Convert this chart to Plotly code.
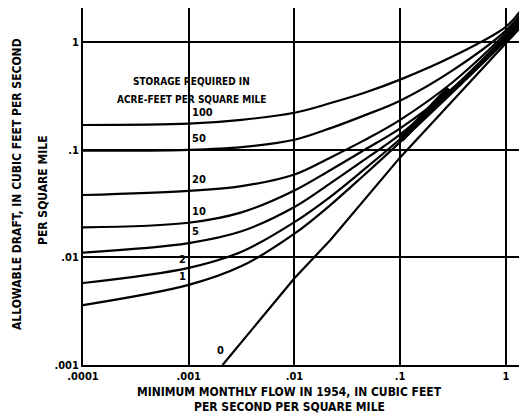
import math
import plotly.graph_objects as go

# ---- data ----
storage_labels = ["100", "50", "20", "10", "5", "2", "1"]
x_flow = [1e-4, 1e-3, 3.16e-3, 1e-2, 2.2e-2, 4.6e-2, 0.1, 0.316, 1.0, 1.38]
y_100 = [0.170, 0.175, 0.190, 0.221, 0.272, 0.339, 0.449, 0.74, 1.39, 1.97]
y_50 = [0.098, 0.100, 0.106, 0.124, 0.159, 0.209, 0.286, 0.55, 1.28, 1.82]
y_20 = [0.038, 0.0416, 0.046, 0.059, 0.085, 0.123, 0.190, 0.427, 1.21, 1.70]
y_10 = [0.019, 0.021, 0.0262, 0.0419, 0.065, 0.0998, 0.158, 0.376, 1.15, 1.60]
y_5 = [0.0111, 0.0136, 0.0175, 0.0294, 0.049, 0.0809, 0.139, 0.371, 1.11, 1.55]
y_2 = [0.00578, 0.0080, 0.0113, 0.0213, 0.0368, 0.0662, 0.126, 0.362, 1.07, 1.48]
y_1 = [0.0036, 0.00555, 0.0083, 0.0166, 0.0308, 0.0587, 0.118, 0.344, 1.03, 1.42]
x_zero = [0.00209, 0.01, 0.022, 0.1, 1.0, 1.38]
y_zero = [0.001, 0.0064, 0.0146, 0.085, 0.98, 1.37]
# heavy overprinted stretch where the low-storage curves merge
x_band = [0.102, 0.29]
y_band = [0.125, 0.37]

x_ticks = [1e-4, 1e-3, 1e-2, 1e-1, 1]
x_ticktext = [".0001", ".001", ".01", ".1", "1"]
y_ticks = [1e-3, 1e-2, 1e-1, 1]
y_ticktext = [".001", ".01", ".1", "1"]

FONT = "DejaVu Sans Condensed, Liberation Sans Narrow, Liberation Sans, sans-serif"

# plot area in page pixels (page has an 8px body margin)
PX0, PX1, PY0, PY1 = 83, 527, 8, 365


def px(xp):
    return (xp - PX0) / (PX1 - PX0)


def py(yp):
    return (PY1 - yp) / (PY1 - PY0)


series = [y_100, y_50, y_20, y_10, y_5, y_2, y_1]

fig = go.Figure()
for ys in series:
    fig.add_trace(go.Scatter(x=x_flow, y=ys, mode="lines",
                             line=dict(color="black", width=2.2, shape="spline", smoothing=1.0),
                             showlegend=False, hoverinfo="skip"))
fig.add_trace(go.Scatter(x=x_zero, y=y_zero, mode="lines",
                         line=dict(color="black", width=2.2),
                         showlegend=False, hoverinfo="skip"))
fig.add_trace(go.Scatter(x=x_band, y=y_band, mode="lines",
                         line=dict(color="black", width=6),
                         showlegend=False, hoverinfo="skip"))

lab_font = dict(family=FONT, size=11, color="black", weight="bold")
leg_font = dict(family=FONT, size=10, color="black", weight="bold")
title_font = dict(family=FONT, size=12, color="black", weight="bold")

# curve labels anchored to each curve at x = .001
for lab, ys in zip(storage_labels, series):
    left = lab in ("2", "1")
    fig.add_annotation(x=math.log10(x_flow[1]), y=math.log10(ys[1]), text=lab,
                       xref="x", yref="y", showarrow=False,
                       xanchor="right" if left else "left", yanchor="bottom",
                       xshift=-1 if left else 1, yshift=0 if left else 3,
                       font=lab_font)
fig.add_annotation(x=math.log10(x_zero[0]), y=math.log10(y_zero[0]), text="0",
                   xref="x", yref="y", showarrow=False, xanchor="right", yanchor="bottom",
                   xshift=3, yshift=6, font=lab_font)

# legend title
for txt, yy in [("STORAGE REQUIRED IN", 81), ("ACRE-FEET PER SQUARE MILE", 99)]:
    fig.add_annotation(x=px(191), y=py(yy), xref="paper", yref="paper",
                       text=txt, showarrow=False, xanchor="center", yanchor="middle",
                       font=leg_font)

# axis titles
for txt, yy in [("MINIMUM MONTHLY FLOW IN 1954, IN CUBIC FEET", 392),
                ("PER SECOND PER SQUARE MILE", 407)]:
    fig.add_annotation(x=px(289), y=py(yy), xref="paper", yref="paper",
                       text=txt, showarrow=False, xanchor="center", yanchor="middle",
                       font=title_font)
for txt, xx, yy in [("ALLOWABLE DRAFT, IN CUBIC FEET PER SECOND", 17, 184),
                    ("PER SQUARE MILE", 43, 190)]:
    fig.add_annotation(x=px(xx), y=py(yy), xref="paper", yref="paper",
                       text=txt, showarrow=False, textangle=-90,
                       xanchor="center", yanchor="middle", font=title_font)

fig.update_layout(
    width=PX1 - 8, height=419 - 8,
    margin=dict(l=PX0 - 8, r=0, t=PY0 - 8, b=419 - PY1),
    paper_bgcolor="white", plot_bgcolor="white",
    font=lab_font,
    showlegend=False,
)
fig.update_xaxes(type="log", range=[-4, 0.2], tickvals=x_ticks, ticktext=x_ticktext,
                 showgrid=True, gridcolor="black", gridwidth=1.8,
                 showline=True, linecolor="black", linewidth=2, mirror=True,
                 ticks="", tickfont=lab_font, zeroline=False, automargin=False)
fig.update_yaxes(type="log", range=[-3, 0.318], tickvals=y_ticks, ticktext=y_ticktext,
                 showgrid=True, gridcolor="black", gridwidth=1.8,
                 showline=True, linecolor="black", linewidth=2, mirror=False,
                 ticks="", tickfont=lab_font, zeroline=False, automargin=False)

fig.write_html("out.html")
